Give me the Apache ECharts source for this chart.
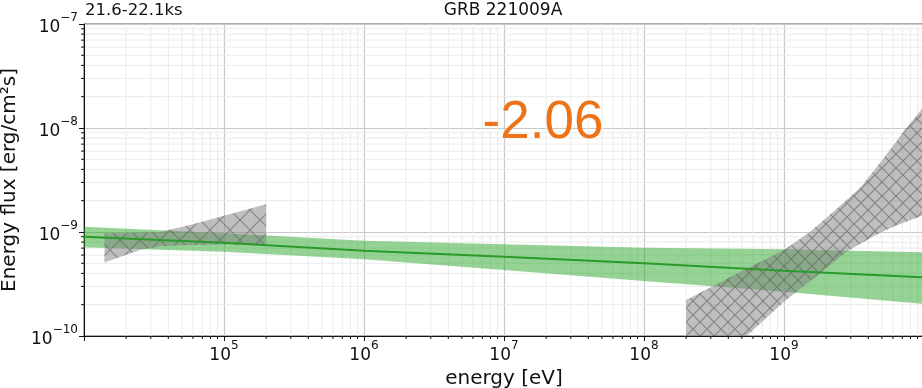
<!DOCTYPE html>
<html>
<head>
<meta charset="utf-8">
<script src="https://cdn.jsdelivr.net/npm/echarts@6/dist/echarts.min.js"></script>
<style>
  html, body { margin: 0; padding: 0; background: #fff; }
  #chart { width: 922px; height: 388px; }
</style>
</head>
<body>
<div id="chart"></div>
<script>
// Header texts
const titleText = 'GRB 221009A';
const intervalText = '21.6-22.1ks';
const indexText = '-2.06';

// Axis ranges (energy in eV, energy flux in erg/cm²/s)
const xRange = [1e4, 1e10];
const yRange = [1e-10, 1e-7];
const minorMultiples = [2, 3, 4, 5, 6, 7, 8, 9];
const xDecades = [1e4, 1e5, 1e6, 1e7, 1e8, 1e9];
const yDecades = [1e-10, 1e-9, 1e-8];

// Power-law fit: best line and its upper / lower envelope
const fitEnergy = [1e4, 1e5, 1e6, 1e7, 1e8, 1e9, 1e10];
const fitFlux   = [9.02e-10, 7.89e-10, 6.61e-10, 5.79e-10, 5.0e-10, 4.25e-10, 3.66e-10];
const fitUpper  = [1.125e-9, 9.72e-10, 8.24e-10, 7.62e-10, 7.06e-10, 6.82e-10, 6.38e-10];
const fitLower  = [7.13e-10, 6.47e-10, 5.46e-10, 4.32e-10, 3.38e-10, 2.67e-10, 2.03e-10];

// X-ray butterfly
const xrtEnergy = [1.4e4, 2.5e4, 3.5e4, 6e4, 1e5, 2e5];
const xrtUpper  = [9.7e-10, 9.9e-10, 1.0e-9, 1.19e-9, 1.43e-9, 1.85e-9];
const xrtLower  = [5.1e-10, 6.7e-10, 7.3e-10, 7.5e-10, 7.6e-10, 7.6e-10];

// LAT butterfly
const latUpperEnergy = [2.0e8, 4.9e8, 1e9, 1.53e9, 2.24e9, 3.49e9, 4.85e9, 7.31e9, 1e10];
const latUpper       = [2.22e-10, 4.15e-10, 6.71e-10, 1.0e-9, 1.56e-9, 2.65e-9, 4.6e-9, 9.57e-9, 1.62e-8];
const latLowerEnergy = [2.0e8, 5.4e8, 1e9, 1.8e9, 2.8e9, 4.3e9, 6.0e9, 1e10];
const latLower       = [3.0e-11, 1.0e-10, 2.14e-10, 4.0e-10, 6.47e-10, 9.0e-10, 1.125e-9, 1.46e-9];

// "10" with a raised exponent, as rich text
function powLabel(v) {
  const e = Math.round(Math.log10(v));
  return '{b|10}{s|' + String(e).replace('-', '\u2212') + '}';
}
const powRich = {
  b: { fontSize: 17, fontFamily: 'DejaVu Sans', color: '#111', lineHeight: 24, verticalAlign: 'bottom' },
  s: { fontSize: 12, fontFamily: 'DejaVu Sans', color: '#111', lineHeight: 24, verticalAlign: 'top' }
};

function hatchCanvas(size, bg, line) {
  const c = document.createElement('canvas');
  c.width = c.height = size;
  const g = c.getContext('2d');
  g.fillStyle = bg;
  g.fillRect(0, 0, size, size);
  g.strokeStyle = line;
  g.lineWidth = 1.2;
  g.beginPath();
  g.moveTo(-1, -1); g.lineTo(size + 1, size + 1);
  g.moveTo(size + 1, -1); g.lineTo(-1, size + 1);
  g.stroke();
  return c;
}

function bandSeries(name, upperE, upperV, lowerE, lowerV, fill, z) {
  return {
    type: 'custom',
    name: name,
    clip: true,
    z: z,
    silent: true,
    data: [[1e6, 1e-9]],
    encode: { x: 0, y: 1 },
    renderItem: function (params, api) {
      const pts = [];
      for (let i = 0; i < upperE.length; i++) pts.push(api.coord([upperE[i], upperV[i]]));
      for (let i = lowerE.length - 1; i >= 0; i--) pts.push(api.coord([lowerE[i], lowerV[i]]));
      return { type: 'polygon', shape: { points: pts }, style: { fill: fill, stroke: null } };
    }
  };
}

const minorX = [];
xDecades.forEach(d => minorMultiples.forEach(m => minorX.push([m * d])));
const minorY = [];
yDecades.forEach(d => minorMultiples.forEach(m => minorY.push([m * d])));

const minorGridColor = '#ebebeb';

const chart = echarts.init(document.getElementById('chart'), null, { renderer: 'canvas' });

chart.setOption({
  animation: false,
  backgroundColor: '#fff',
  textStyle: { fontFamily: 'DejaVu Sans' },
  grid: {
    left: 84, right: -2, top: 24, bottom: 52,
    containLabel: false, outerBoundsMode: 'none',
    show: true, borderColor: '#555', borderWidth: 1, backgroundColor: 'transparent'
  },
  graphic: [
    { type: 'text', left: 85, top: 2, style: { text: intervalText, font: '16.5px "DejaVu Sans"', fill: '#111' } },
    { type: 'text', x: 503, y: 2, style: { text: titleText, font: '17px "DejaVu Sans"', fill: '#111', textAlign: 'center' } },
    { type: 'text', x: 543, y: 123, z: 100, style: { text: indexText, font: '53px "Liberation Sans"', fill: '#ee7218', textAlign: 'center', textVerticalAlign: 'middle' } }
  ],
  xAxis: {
    type: 'log', logBase: 10, min: xRange[0], max: xRange[1],
    name: 'energy [eV]', nameLocation: 'middle', nameGap: 27,
    nameTextStyle: { fontSize: 20, color: '#111', fontFamily: 'DejaVu Sans' },
    axisLine: { show: true, lineStyle: { color: '#111', width: 1 } },
    axisTick: { show: true, length: 5, lineStyle: { color: '#111' } },
    axisLabel: {
      margin: 4, rich: powRich,
      formatter: v => (v <= xRange[0] * 1.01 || v >= xRange[1] * 0.99) ? '' : powLabel(v)
    },
    splitLine: { show: true, lineStyle: { color: '#c8c8c8', width: 1.2 } },
    minorTick: { show: false }, minorSplitLine: { show: false }
  },
  yAxis: {
    type: 'log', logBase: 10, min: yRange[0], max: yRange[1],
    name: 'Energy flux [erg/cm²s]', nameLocation: 'middle', nameGap: 57,
    nameTextStyle: { fontSize: 20, color: '#111', fontFamily: 'DejaVu Sans' },
    axisLine: { show: true, lineStyle: { color: '#111', width: 1 } },
    axisTick: { show: true, length: 5, lineStyle: { color: '#111' } },
    axisLabel: { margin: 6, rich: powRich, formatter: v => powLabel(v) },
    splitLine: { show: true, lineStyle: { color: '#c8c8c8', width: 1.2 } },
    minorTick: { show: false }, minorSplitLine: { show: false }
  },
  series: [
    {
      type: 'custom', name: 'minor-x', silent: true, z: 0, clip: false,
      data: minorX, encode: { x: 0 },
      renderItem: function (params, api) {
        const v = api.value(0);
        const top = api.coord([v, yRange[1]]);
        const bot = api.coord([v, yRange[0]]);
        if (top[0] > 922) return null;
        return {
          type: 'group', children: [
            { type: 'line', shape: { x1: top[0], y1: top[1], x2: bot[0], y2: bot[1] }, style: { stroke: minorGridColor, lineWidth: 1 } },
            { type: 'line', shape: { x1: bot[0], y1: bot[1], x2: bot[0], y2: bot[1] + 3 }, style: { stroke: '#111', lineWidth: 1 } }
          ]
        };
      }
    },
    {
      type: 'custom', name: 'minor-y', silent: true, z: 0, clip: false,
      data: minorY.map(v => [xRange[0], v[0]]), encode: { x: 0, y: 1 },
      renderItem: function (params, api) {
        const v = api.value(1);
        const l = api.coord([xRange[0], v]);
        const r = api.coord([xRange[1], v]);
        return {
          type: 'group', children: [
            { type: 'line', shape: { x1: l[0], y1: l[1], x2: r[0], y2: r[1] }, style: { stroke: minorGridColor, lineWidth: 1 } },
            { type: 'line', shape: { x1: l[0] - 3, y1: l[1], x2: l[0], y2: l[1] }, style: { stroke: '#111', lineWidth: 1 } }
          ]
        };
      }
    },
    bandSeries('fit band', fitEnergy, fitUpper, fitEnergy, fitLower, 'rgba(44,168,44,0.5)', 2),
    bandSeries('XRT', xrtEnergy, xrtUpper, xrtEnergy, xrtLower,
      { image: hatchCanvas(20, 'rgba(128,128,128,0.5)', 'rgba(95,95,95,0.6)'), repeat: 'repeat' }, 3),
    bandSeries('LAT', latUpperEnergy, latUpper, latLowerEnergy, latLower,
      { image: hatchCanvas(14, 'rgba(128,128,128,0.5)', 'rgba(95,95,95,0.6)'), repeat: 'repeat' }, 3),
    {
      type: 'line', name: 'fit', z: 4, silent: true,
      data: fitEnergy.map((e, i) => [e, fitFlux[i]]),
      showSymbol: false, symbol: 'none',
      lineStyle: { color: '#2a9a2a', width: 2 }
    }
  ]
});
</script>
</body>
</html>
